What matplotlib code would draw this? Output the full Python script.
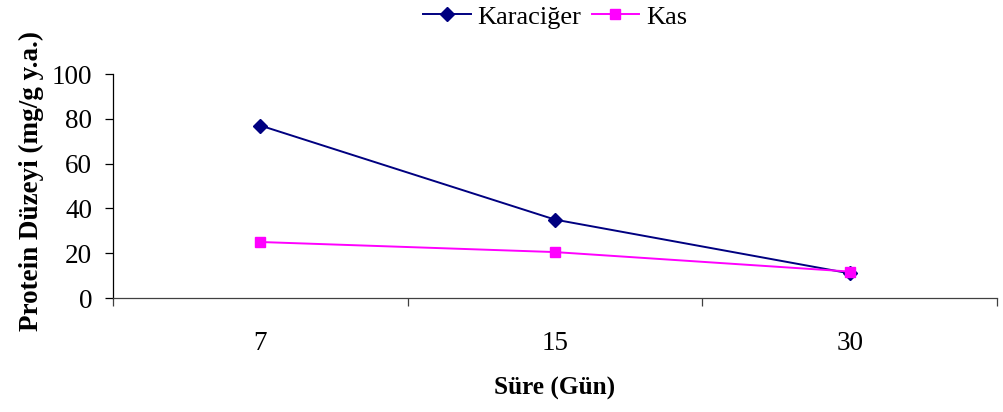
import matplotlib
matplotlib.use("Agg")
import matplotlib.pyplot as plt
import numpy as np

days = ["7", "15", "30"]
karaciger = [77, 35, 11]
kas = [25, 20.5, 11.8]
y_ticks = [0, 20, 40, 60, 80, 100]

plt.rcParams['font.family'] = ['Liberation Serif', 'DejaVu Serif']

fig = plt.figure(figsize=(10.04, 4.12), dpi=100)
ax = fig.add_axes([113 / 1004, 1 - 298 / 412, 884 / 1004, 224 / 412])

x = np.arange(len(days))
ax.plot(x, karaciger, color='#000080', lw=1.4, marker='D', markersize=7.5,
        markerfacecolor='#000080', markeredgecolor='#000080', label='Karaciğer',
        zorder=3)
ax.plot(x, kas, color='#FF00FF', lw=1.4, marker='s', markersize=7.5,
        markerfacecolor='#FF00FF', markeredgecolor='#FF00FF', label='Kas',
        zorder=4)

ax.set_xlim(-0.5, len(days) - 0.5)
ax.set_ylim(0, 100)
ax.set_yticks(y_ticks)
ax.set_yticklabels([str(t) for t in y_ticks], fontsize=19.5)
ax.set_xticks(x)
ax.set_xticklabels(days, fontsize=19.5)
ax.set_xticks(np.arange(-0.5, len(days)), minor=True)

ax.tick_params(axis='x', which='major', length=0, pad=24)
ax.tick_params(axis='x', which='minor', length=6, width=0.9, direction='out',
               color='#404040')
ax.tick_params(axis='y', which='major', length=6, width=0.9, direction='out',
               pad=9)

for side in ('top', 'right'):
    ax.spines[side].set_visible(False)
ax.spines['left'].set_linewidth(0.9)
ax.spines['bottom'].set_linewidth(0.9)
ax.spines['bottom'].set_color('#404040')

ax.set_xlabel('Süre (Gün)', fontsize=18.2, fontweight='bold', labelpad=15)
ax.set_ylabel('Protein Düzeyi (mg/g y.a.)', fontsize=19.5, fontweight='bold')
ax.yaxis.set_label_coords(-69 / 884, (298 - 181) / 224)

leg = fig.legend(loc='center', bbox_to_anchor=(555 / 1004, 1 - 17 / 412),
                 ncol=2, frameon=False, fontsize=19, handlelength=1.8,
                 handletextpad=0.25, columnspacing=0.4, borderpad=0.1)

fig.savefig('out.png', dpi=100)
